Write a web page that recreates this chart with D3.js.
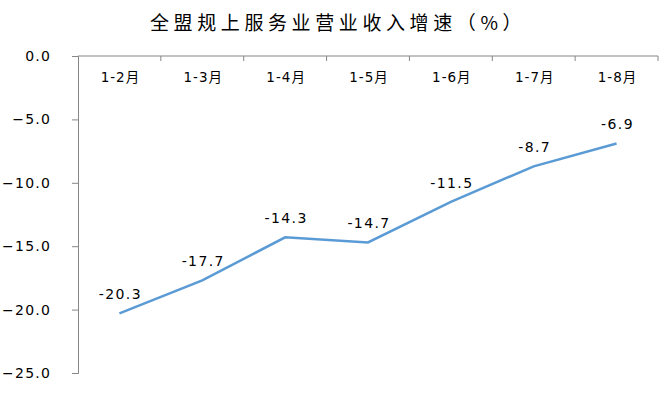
<!DOCTYPE html>
<html>
<head>
<meta charset="utf-8">
<script src="https://cdn.jsdelivr.net/npm/d3@7"></script>
<style>
  body { margin: 0; background: #fff; }
  .tick text { font-family: "DejaVu Sans", Verdana, sans-serif; fill: #000; }
</style>
</head>
<body>
<div id="chart"></div>
<script>
const months = ['1-2月', '1-3月', '1-4月', '1-5月', '1-6月', '1-7月', '1-8月'];
const growth = [-20.3, -17.7, -14.3, -14.7, -11.5, -8.7, -6.9];
const yTicks = [0, -5, -10, -15, -20, -25];
const title = '全盟规上服务业营业收入增速（%）';

const width = 667, height = 404;
const margin = { top: 56, right: 9, bottom: 31, left: 78 };

const svg = d3.select('#chart').append('svg')
  .attr('width', width)
  .attr('height', height);

const x = d3.scaleBand()
  .domain(months)
  .range([margin.left, width - margin.right]);

const y = d3.scaleLinear()
  .domain([0, -25])
  .range([margin.top, height - margin.bottom]);

// title
svg.append('text')
  .attr('x', 150)
  .attr('y', 30)
  .style('font-family', '"Noto Sans CJK SC", sans-serif')
  .style('font-size', '19px')
  .style('letter-spacing', '4.6px')
  .text(title);

// y axis
const yAxis = svg.append('g')
  .attr('transform', `translate(${margin.left},0)`)
  .call(d3.axisLeft(y).tickValues(yTicks).tickFormat(d3.format('.1f')).tickSize(6).tickPadding(21));
yAxis.selectAll('path, line').attr('stroke', '#868686');
yAxis.selectAll('text')
  .style('font-size', '14px')
  .style('letter-spacing', '1.2px');

// x axis across the top (at 0), ticks pointing into the plot
const xAxis = svg.append('g')
  .attr('transform', `translate(0,${y(0)})`);
xAxis.append('line')
  .attr('x1', margin.left).attr('x2', width - margin.right)
  .attr('stroke', '#868686');
xAxis.selectAll('line.tk')
  .data(months)
  .join('line')
  .attr('class', 'tk')
  .attr('x1', d => x(d) + x.bandwidth()).attr('x2', d => x(d) + x.bandwidth())
  .attr('y1', 0).attr('y2', 5)
  .attr('stroke', '#868686');
xAxis.selectAll('text')
  .data(months)
  .join('text')
  .attr('x', d => x(d) + x.bandwidth() / 2 + 1)
  .attr('y', 26)
  .attr('text-anchor', 'middle')
  .style('font-family', '"DejaVu Sans", "Noto Sans CJK SC", sans-serif')
  .style('font-size', '13.5px')
  .style('letter-spacing', '1px')
  .text(d => d);

// line
const line = d3.line()
  .x((d, i) => x(months[i]) + x.bandwidth() / 2)
  .y(d => y(d));

svg.append('path')
  .datum(growth)
  .attr('fill', 'none')
  .attr('stroke', '#5B9BD5')
  .attr('stroke-width', 2.5)
  .attr('d', line);

// data labels
svg.selectAll('text.val')
  .data(growth)
  .join('text')
  .attr('class', 'val')
  .attr('x', (d, i) => x(months[i]) + x.bandwidth() / 2 + 1)
  .attr('y', d => y(d) - 14)
  .attr('text-anchor', 'middle')
  .style('font-family', '"DejaVu Sans", Verdana, sans-serif')
  .style('font-size', '14px')
  .style('letter-spacing', '1.4px')
  .text(d => d.toFixed(1));
</script>
</body>
</html>
